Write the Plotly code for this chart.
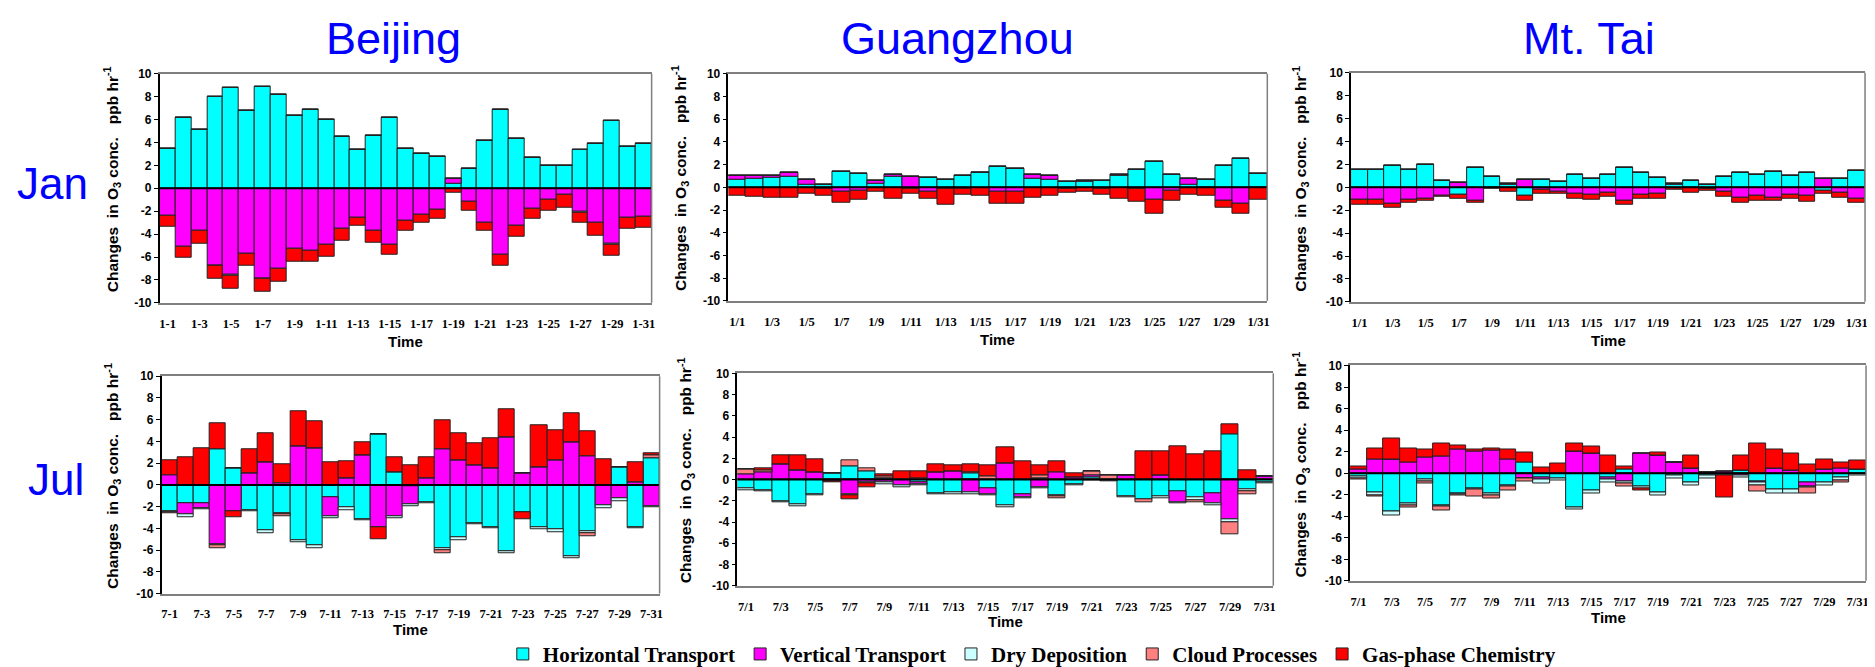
import plotly.graph_objects as go

# ---------------- data ----------------
components = ["Horizontal Transport", "Vertical Transport", "Dry Deposition",
              "Cloud Processes", "Gas-phase Chemistry"]
comp_colors = ["#00FFFF", "#FF00FF", "#CCFFFF", "#FF8080", "#FF0000"]

days = list(range(1, 32))
bj_jan_labels = [f"1-{d}" for d in days]
gz_jan_labels = [f"1/{d}" for d in days]
mt_jan_labels = [f"1/{d}" for d in days]
bj_jul_labels = [f"7-{d}" for d in days]
gz_jul_labels = [f"7/{d}" for d in days]
mt_jul_labels = [f"7/{d}" for d in days]

y_tick_vals = [-10, -8, -6, -4, -2, 0, 2, 4, 6, 8, 10]
y_tick_text = ["-10", "-8", "-6", "-4", "-2", "0", "2", "4", "6", "8", "10"]

zeros = [0] * 31

# Beijing, January
bj_jan_ht = [3.45, 6.13, 5.1, 8.0, 8.8, 6.75, 8.9, 8.13, 6.3, 6.9, 5.96, 4.5, 3.36, 4.58, 6.2, 3.47,
             3.02, 2.77, 0.42, 1.72, 4.15, 6.9, 4.35, 2.68, 2.0, 2.0, 3.36, 3.87, 5.87, 3.64, 3.87]
bj_jan_vt = [-2.37, -5.06, -3.73, -6.75, -7.55, -5.73, -7.88, -7.03, -5.28, -5.42, -4.94, -3.56, -2.6,
             -3.73, -4.89, -2.85, -2.29, -1.86, 0.45, -1.19, -2.97, -5.82, -3.3, -1.75, -0.96, -0.59,
             -2.08, -2.97, -4.88, -2.6, -2.46]
bj_jan_dd = [0, 0, 0, -0.05, -0.1, 0, -0.05, 0, 0, 0, 0, 0, 0, 0, 0, 0, 0, 0, 0, 0, 0, 0, 0, 0, 0, 0,
             -0.05, 0, -0.08, 0, 0]
bj_jan_cloud = zeros
bj_jan_chem = [-0.99, -1.01, -1.13, -1.08, -1.11, -1.02, -1.07, -1.1, -1.13, -0.99, -1.05, -1.02, -0.7,
               -1.04, -0.9, -0.88, -0.73, -0.82, -0.42, -0.73, -0.76, -0.93, -0.94, -0.91, -1.04, -1.08,
               -0.89, -1.18, -0.92, -0.93, -0.99]

# Guangzhou, January
gz_jan_ht = [0.66, 0.75, 0.8, 0.92, 0.23, 0.2, 1.38, 1.2, 0.29, 0.92, -0.15, 0.8, 0.69, 0.98, 1.24, 1.84,
             1.64, 0.75, 0.69, 0.52, 0.52, 0.6, 0.98, 1.55, 2.24, 1.15, 0.2, 0.69, 1.93, 2.5, 1.2]
gz_jan_vt = [0.32, 0.31, 0.26, 0.32, 0.4, -0.15, -0.4, -0.26, 0.26, 0.2, 0.89, -0.4, -0.1, -0.1, 0.08,
             -0.4, -0.4, 0.34, 0.29, -0.1, 0.1, -0.1, 0.14, -0.1, -1.09, -0.32, 0.58, -0.05, -1.18,
             -1.44, -0.05]
gz_jan_dd = zeros
gz_jan_cloud = zeros
gz_jan_chem = [-0.75, -0.83, -0.95, -0.95, -0.6, -0.55, -0.95, -0.86, -0.4, -1.03, -0.45, -0.63, -1.42,
               -0.59, -0.7, -1.04, -1.04, -0.95, -0.75, -0.36, -0.43, -0.53, -1.0, -1.16, -1.21, -0.86,
               -0.66, -0.7, -0.63, -0.89, -1.04]

# Mt. Tai, January
mt_jan_ht = [1.53, 1.53, 1.89, 1.53, 1.98, 0.59, -0.65, 1.72, 0.96, 0.2, -0.76, 0.62, 0.51, 1.13, 0.79,
             1.13, 1.72, 1.27, 0.85, 0.23, 0.59, 0.25, 0.96, 1.3, 1.13, 1.36, 1.05, 1.27, -0.31, 0.79, 1.44]
mt_jan_vt = [-1.07, -1.07, -1.41, -1.07, -0.99, -0.71, 0.42, -1.19, -0.05, 0.08, 0.7, -0.25, -0.4, -0.54,
             -0.68, -0.48, -1.19, -0.68, -0.59, 0.1, -0.06, -0.1, -0.42, -0.88, -0.76, -0.93, -0.68,
             -0.76, 0.76, -0.48, -1.02]
mt_jan_dd = zeros
mt_jan_cloud = zeros
mt_jan_chem = [-0.43, -0.43, -0.4, -0.31, -0.22, -0.14, -0.31, -0.14, -0.1, -0.37, -0.45, -0.31, -0.14,
               -0.42, -0.37, -0.37, -0.36, -0.28, -0.37, -0.2, -0.45, -0.24, -0.37, -0.48, -0.45, -0.28,
               -0.34, -0.54, -0.25, -0.4, -0.34]

# Beijing, July
bj_jul_ht = [-2.41, -1.66, -1.7, 3.28, 1.55, -2.29, -4.21, -2.6, -5.1, -5.53, -1.15, -2.05, -3.16, 4.63,
             1.21, -0.1, -1.63, -5.84, -4.84, -3.52, -3.85, -6.07, -2.47, -3.91, -4.06, -6.55, -4.3,
             -0.05, 1.63, -3.85, 2.5]
bj_jul_vt = [0.88, -1.08, -0.44, -5.43, -2.38, 1.04, 2.11, 0.13, 3.55, 3.37, -1.74, 0.58, 2.71, -3.85,
             -2.86, -1.65, 0.58, 3.25, 2.29, 1.84, 1.51, 4.36, 1.06, 1.6, 2.29, 3.94, 2.65, -1.82, -1.24,
             0.25, -1.94]
bj_jul_dd = [-0.15, -0.25, -0.12, -0.12, 0, -0.1, -0.24, -0.1, -0.18, -0.27, -0.21, -0.24, -0.09, 0,
             -0.24, -0.18, -0.06, -0.15, -0.21, -0.12, -0.15, -0.24, 0, -0.18, -0.27, -0.24, -0.12,
             -0.24, -0.25, -0.18, -0.08]
bj_jul_cloud = [-0.05, 0, 0, -0.25, 0, 0, 0, -0.17, 0, 0, 0, 0, 0, 0, 0, 0, 0, -0.26, 0, 0, 0, 0, 0, 0,
                0, 0, -0.33, 0, 0, 0, 0.2]
bj_jul_chem = [1.41, 2.56, 3.4, 2.37, -0.57, 2.21, 2.64, 1.8, 3.21, 2.46, 2.05, 1.62, 1.26, -1.14, 1.35,
               1.78, 1.98, 2.67, 2.46, 1.95, 2.79, 2.58, -0.72, 3.9, 2.76, 2.67, 2.25, 2.38, 0, 1.8, 0.25]

# Guangzhou, July
gz_jul_ht = [-0.86, -0.98, -2.06, -2.37, -1.38, 0.58, 1.29, 0.77, 0.12, 0, -0.25, -1.29, -1.17, 0.55,
             -0.83, -2.46, -1.38, 0.15, -1.45, -0.46, 0.25, -0.1, -1.6, -1.85, -1.6, -1.08, -1.69, -1.29,
             4.22, -0.95, -0.28]
gz_jul_vt = [0.52, 0.71, 1.42, 0.86, 0.65, -0.15, -1.35, -0.3, -0.28, -0.52, -0.18, 0.68, 0.77, -1.17,
             -0.52, 1.57, -0.31, -0.74, 0.65, 0.25, 0.15, 0, 0.4, 0, 0.37, -1.07, 0, -0.93, -3.78, 0, 0.28]
gz_jul_dd = [-0.16, -0.16, -0.1, -0.12, -0.06, 0, -0.15, -0.1, -0.18, -0.18, -0.15, -0.09, -0.18, -0.18,
             -0.09, -0.16, -0.09, -0.09, -0.15, -0.06, -0.05, -0.1, -0.09, 0, -0.15, -0.06, -0.25, -0.18,
             -0.22, -0.13, -0.05]
gz_jul_cloud = [0.46, 0.14, 0, 0, 0, 0, 0.55, 0.31, 0.14, 0, 0.1, 0, 0, 0.12, 0.33, 0, 0, 0.25, -0.15, 0,
                0.4, 0.43, 0, -0.3, 0, 0, -0.2, 0, -1.17, -0.3, 0]
gz_jul_chem = [0, 0.2, 0.86, 1.45, 1.26, -0.1, -0.4, -0.3, 0.2, 0.74, 0.7, 0.8, 0.58, 0.8, 1.0, 1.45,
               1.72, 0.95, 1.07, 0.37, 0, 0, 0, 2.7, 2.25, 3.17, 2.34, 2.62, 0.98, 0.89, 0]

# Mt. Tai, July
mt_jul_ht = [-0.33, -1.79, -3.6, -2.85, -0.55, -3.0, -1.91, -1.42, -1.88, -1.15, 0.97, -0.42, -0.52,
             -3.15, -1.6, -0.39, 0.33, -1.21, -1.82, -0.2, -0.82, -0.25, -0.1, 0.27, -0.73, -1.55, -1.55,
             -0.87, -0.87, -0.36, 0.3]
mt_jul_vt = [0.36, 1.27, 1.27, 0.97, 1.45, 1.55, 2.24, 1.97, 2.15, 1.27, -0.45, -0.16, 0, 2.03, 1.85,
             -0.19, -0.76, 1.82, 1.61, 0.97, 0.42, 0.05, 0.2, -0.2, -0.15, 0.42, 0.27, -0.33, 0.3, 0.48, 0]
mt_jul_dd = [-0.15, -0.25, -0.3, -0.15, -0.2, -0.12, -0.1, -0.1, -0.15, -0.12, -0.05, -0.36, -0.18,
             -0.24, -0.28, -0.27, -0.18, -0.18, -0.27, -0.28, -0.33, -0.25, -0.15, -0.2, -0.3, -0.36,
             -0.36, -0.15, -0.25, -0.3, -0.24]
mt_jul_cloud = [-0.1, -0.1, 0, -0.15, -0.19, -0.36, -0.1, -0.66, -0.3, -0.31, -0.26, 0, 0, 0, 0, 0, -0.3,
                0, 0, 0, 0, 0, 0, 0, -0.55, 0, 0, -0.5, 0, -0.2, 0]
mt_jul_chem = [0.22, 1.06, 1.97, 1.36, 0.73, 1.24, 0.31, 0.27, 0.18, 0.91, 0.94, 0.52, 0.88, 0.76, 0.6,
               1.67, 0.27, -0.25, 0.33, 0, 1.19, 0, -2.05, 1.4, 2.79, 1.79, 1.58, 0.84, 0.99, 0.54, 0.84]

site_titles = ["Beijing", "Guangzhou", "Mt. Tai"]
row_titles = ["Jan", "Jul"]

# ---------------- layout (pixels) ----------------
W, H = 1875, 667
panel_series = [
    (bj_jan_labels, [bj_jan_ht, bj_jan_vt, bj_jan_dd, bj_jan_cloud, bj_jan_chem]),
    (gz_jan_labels, [gz_jan_ht, gz_jan_vt, gz_jan_dd, gz_jan_cloud, gz_jan_chem]),
    (mt_jan_labels, [mt_jan_ht, mt_jan_vt, mt_jan_dd, mt_jan_cloud, mt_jan_chem]),
    (bj_jul_labels, [bj_jul_ht, bj_jul_vt, bj_jul_dd, bj_jul_cloud, bj_jul_chem]),
    (gz_jul_labels, [gz_jul_ht, gz_jul_vt, gz_jul_dd, gz_jul_cloud, gz_jul_chem]),
    (mt_jul_labels, [mt_jul_ht, mt_jul_vt, mt_jul_dd, mt_jul_cloud, mt_jul_chem]),
]
# plot-area boxes: left, right, top, bottom (px)
boxes = [(152, 645, 60, 294), (722, 1262, 60, 292), (1346, 1861, 59, 293),
         (154, 653, 369, 591), (731, 1268, 366, 583), (1345, 1862, 358, 578)]
ytitle_x = [105, 674, 1296, 105, 679, 1296]
time_dy = [39, 39, 39, 37, 37, 37]

fig = go.Figure()
layout = {}
annotations = []
shapes = []

AX_FONT = "Liberation Sans"
SERIF = "Liberation Serif"

for i, ((labels, series), box) in enumerate(zip(panel_series, boxes), start=1):
    xa = "x" if i == 1 else f"x{i}"
    ya = "y" if i == 1 else f"y{i}"
    for k, (name, col, vals) in enumerate(zip(components, comp_colors, series)):
        fig.add_trace(go.Bar(
            x=labels, y=vals, name=name, legendgroup=name, showlegend=(i == 1),
            marker=dict(color=col, line=dict(color="#222222", width=1)),
            xaxis=xa, yaxis=ya))
    l, r, t, b = box
    xdom = [l / W, r / W]
    ydom = [1 - b / H, 1 - t / H]
    xkey = "xaxis" if i == 1 else f"xaxis{i}"
    ykey = "yaxis" if i == 1 else f"yaxis{i}"
    layout[xkey] = dict(
        domain=xdom, anchor=ya, type="category", range=[-0.5, 30.5],
        tickmode="array", tickvals=labels[::2], ticktext=labels[::2],
        tickfont=dict(family=SERIF, size=12.5, color="black", weight="bold"),
        ticks="", ticklabelstandoff=8, showgrid=False, zeroline=False,
        showline=True, linecolor="#7f7f7f", linewidth=1.5, mirror=True)
    layout[ykey] = dict(
        domain=ydom, anchor=xa, range=[-10, 10],
        tickmode="array", tickvals=y_tick_vals, ticktext=y_tick_text,
        tickfont=dict(family=AX_FONT, size=12, color="black", weight="bold"),
        ticks="outside", ticklen=4, tickcolor="black", showgrid=False, zeroline=False,
        showline=True, linecolor="black", linewidth=1.5)
    # zero line and right border
    shapes.append(dict(type="line", xref=f"{xa} domain", yref=ya, x0=0, x1=1, y0=0, y1=0,
                       line=dict(color="black", width=2), layer="above"))
    shapes.append(dict(type="line", xref=f"{xa} domain", yref=f"{ya} domain", x0=1, x1=1, y0=0, y1=1,
                       line=dict(color="#7f7f7f", width=1.5), layer="above"))
    # axis titles
    annotations.append(dict(
        text="Time", xref="paper", yref="paper", x=(l + r) / 2 / W, y=1 - (b + time_dy[i - 1]) / H,
        xanchor="center", yanchor="middle", showarrow=False,
        font=dict(family=AX_FONT, size=15, color="black", weight="bold")))
    annotations.append(dict(
        text="Changes\u00a0 in O<sub>3</sub> conc.\u00a0\u00a0 ppb hr<sup>-1</sup>",
        xref="paper", yref="paper", x=ytitle_x[i - 1] / W, y=1 - ((t + b) / 2 - 9) / H,
        xanchor="center", yanchor="middle", textangle=-90, showarrow=False,
        font=dict(family=AX_FONT, size=15.5, color="black", weight="bold")))

# site titles and month labels
for name, cx in zip(site_titles, [386, 952, 1584]):
    annotations.append(dict(text=name, xref="paper", yref="paper", x=cx / W, y=1 - 24 / H,
                            xanchor="center", yanchor="middle", showarrow=False,
                            font=dict(family=AX_FONT, size=45, color="#0000FF")))
for name, cx, cy in zip(row_titles, [45, 48], [172, 474]):
    annotations.append(dict(text=name, xref="paper", yref="paper", x=cx / W, y=1 - cy / H,
                            xanchor="center", yanchor="middle", showarrow=False,
                            font=dict(family=AX_FONT, size=44, color="#0000FF")))

fig.update_layout(
    width=W, height=H, margin=dict(l=0, r=0, t=0, b=0),
    paper_bgcolor="white", plot_bgcolor="white",
    barmode="relative", bargap=0,
    legend=dict(orientation="h", x=1026 / W, xanchor="center", y=1 - 653 / H, yanchor="middle",
                font=dict(family=SERIF, size=21, color="black", weight="bold"),
                bgcolor="rgba(0,0,0,0)", traceorder="normal"),
    annotations=annotations, shapes=shapes, **layout)

fig.write_html("out.html")
